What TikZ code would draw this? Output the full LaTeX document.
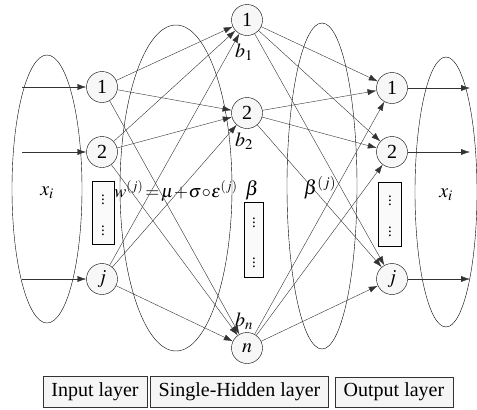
\documentclass[tikz,border=0pt]{standalone}
\usepackage{mathptmx}
\usepackage{fontspec}
\setmainfont{Liberation Serif}
\usepackage{tikz}
\usetikzlibrary{shapes,arrows.meta,positioning,shadows}

\tikzset{
  neuron/.style={circle,draw,fill=gray!6,minimum size=31pt,inner sep=0pt},
  dotbox/.style={rectangle,draw,fill=gray!4,inner sep=0pt},
  dots/.style={inner sep=0pt,font=\fontsize{15}{15}\selectfont},
  layerbox/.style={rectangle,draw=black!80,fill=gray!8,inner sep=0pt},
  conn/.style={-{Latex[length=9pt,width=6pt]},black!80}
}

\begin{document}
\begin{tikzpicture}[x=1pt,y=-1pt,font=\fontsize{20}{24}\selectfont]
			\useasboundingbox (0,0) rectangle (477,410);

			% layer ellipses
			\draw (47,189) ellipse (35 and 134);
			\draw (176,188) ellipse (56 and 163);
			\draw (322,186) ellipse (35 and 163);
			\draw (446,192) ellipse (31 and 135);

			% input layer
			\node[neuron] (in1) at (102,87) {1};
			\node[neuron] (in2) at (102,152) {2};
			\node[neuron] (inj) at (102,279) {$j$};
			\node[dotbox,minimum width=22pt,minimum height=63pt] (inbox) at (103,213) {};
			\node[dots] (indot1) at (103,197) {$\vdots$};
			\node[dots] (indot2) at (103,228) {$\vdots$};

			% hidden layer
			\node[neuron] (h1) at (247,20) {1};
			\node[neuron] (h2) at (247,113) {2};
			\node[neuron] (hn) at (247,348) {$n$};
			\node[dotbox,minimum width=19pt,minimum height=75pt] (hbox) at (254,240) {};
			\node[dots] (hdot1) at (254,220) {$\vdots$};
			\node[dots] (hdot2) at (254,260) {$\vdots$};

			% output layer
			\node[neuron] (o1) at (392,88) {1};
			\node[neuron] (o2) at (392,152) {2};
			\node[neuron] (oj) at (392,279) {$j$};
			\node[dotbox,minimum width=23pt,minimum height=64pt] (obox) at (390,214) {};
			\node[dots] (odot1) at (390,198) {$\vdots$};
			\node[dots] (odot2) at (390,229) {$\vdots$};

			% free ends
			\coordinate (s1) at (22,87);
			\coordinate (s2) at (22,152);
			\coordinate (sj) at (22,279);
			\coordinate (t1) at (470,88);
			\coordinate (t2) at (470,152);
			\coordinate (tj) at (470,279);

			% labels
			\node (xin) at (47,193) {$x_i$};
			\node (xout) at (446,195) {$x_i$};
			\node (b1) at (244,52) {$b_1$};
			\node (b2) at (244,141) {$b_2$};
			\node (bn) at (244,321) {$b_n$};
			\node (beta) at (252,190) {$\beta$};
			\node (betaj) at (320,188) {$\beta^{(j)}$};
			\node[font=\fontsize{18}{20}\selectfont] (wj) at (176,191) {$w^{(j)}\!=\!\mu\!+\!\sigma\!\circ\!\varepsilon^{(j)}$};

			% connectors
			\draw[conn] (s1) -- (in1);
			\draw[conn] (s2) -- (in2);
			\draw[conn] (sj) -- (inj);
			\foreach \a in {in1,in2,inj}
			  \foreach \b in {h1,h2,hn}
			    \draw[conn] (\a) -- (\b);
			\foreach \a in {h1,h2,hn}
			  \foreach \b in {o1,o2,oj}
			    \draw[conn] (\a) -- (\b);
			\draw[conn] (o1) -- (t1);
			\draw[conn] (o2) -- (t2);
			\draw[conn] (oj) -- (tj);

			% layer names
			\node[layerbox,minimum width=104pt,minimum height=31pt] (inlay) at (95,392) {Input layer};
			\node[layerbox,minimum width=178pt,minimum height=31pt] (hlay) at (239.5,392) {Single-Hidden layer};
			\node[layerbox,minimum width=118pt,minimum height=30pt] (olay) at (394,392) {Output layer};
\end{tikzpicture}
\end{document}
